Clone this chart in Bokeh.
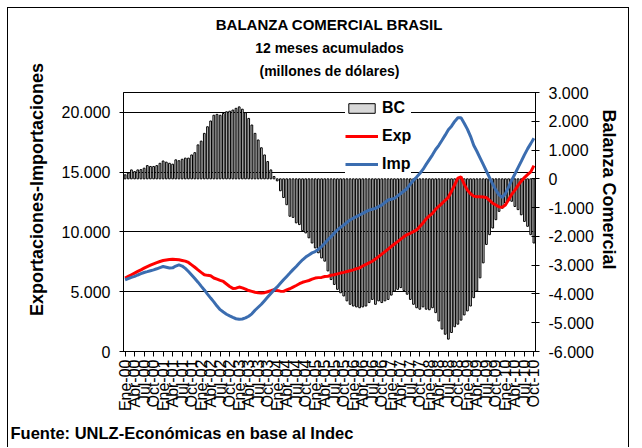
from math import pi
from bokeh.plotting import figure
from bokeh.models import Range1d, LinearAxis, FixedTicker, Legend, LegendItem, Title
from bokeh.embed import file_html
from bokeh.resources import INLINE

FONT = "Liberation Sans"
NBSP = "\u00a0"

# ---- data (monthly, Ene-2000 .. Oct-2010, 12-month accumulated) ----
month_abbr = ["Ene", "Abr", "Jul", "Oct"]
year_codes = ["00", "01", "02", "03", "04", "05", "06", "07", "08", "09", "10"]
x_tick_labels = [f"{m}-{y}" for y in year_codes for m in month_abbr]  # 44 labels
x_tick_months = list(range(0, 130, 3))

bc = [140, 200, 310, 250, 310, 320, 370, 460, 430, 430,
      460, 540, 620, 580, 540, 510, 660, 630, 680, 720,
      720, 830, 910, 1180, 1310, 1580, 1810, 2010, 2210, 2240,
      2210, 2270, 2330, 2350, 2390, 2450, 2500, 2420, 2300, 2100,
      1870, 1580, 1350, 1080, 830, 600, 310, 80, -70, -415,
      -650, -900, -1300, -1340, -1530, -1590, -1800, -1880, -2050, -2230,
      -2400, -2570, -2750, -2860, -3200, -3500, -3670, -3840, -3960, -4070,
      -4240, -4360, -4420, -4450, -4480, -4450, -4420, -4300, -4190, -4360,
      -4240, -4300, -4240, -4190, -4040, -3900, -3840, -3780, -3880, -4010,
      -4190, -4360, -4480, -4530, -4450, -4530, -4550, -4480, -4650, -4940,
      -5220, -5400, -5570, -5340, -5140, -5050, -4910, -4730, -4590, -4420,
      -4130, -3900, -3440, -2920, -2280, -1940, -1710, -1420, -1130, -1020,
      -840, -760, -780, -960, -1070, -1250, -1480, -1650, -1940, -2230]

exp_vals = [6140, 6280, 6420, 6560, 6700, 6830, 6970, 7100, 7220, 7330,
            7430, 7530, 7610, 7660, 7700, 7720, 7700, 7670, 7620, 7560,
            7450, 7250, 7050, 6830, 6620, 6420, 6370, 6330, 6150, 6050,
            5950, 5860, 5650, 5440, 5280, 5300, 5390, 5320, 5220, 5100,
            5030, 4960, 4920, 4890, 4920, 5000, 5080, 5170, 5100, 5050,
            5030, 5150, 5250, 5390, 5520, 5670, 5790, 5870, 5940, 6050,
            6140, 6180, 6200, 6270, 6300, 6380, 6420, 6490, 6560, 6620,
            6690, 6760, 6830, 6920, 7000, 7150, 7290, 7420, 7550, 7740,
            7940, 8150, 8360, 8570, 8780, 8990, 9190, 9400, 9610, 9780,
            9890, 10030, 10170, 10450, 10750, 11100, 11350, 11560, 11900, 12150,
            12390, 12650, 12900, 13400, 13950, 14500, 14600, 14000, 13500, 13200,
            13000, 12940, 12940, 12920, 12880, 12650, 12400, 12250, 12100, 12060,
            12250, 12700, 13150, 13500, 13900, 14250, 14550, 14800, 15030, 15550]

imp_vals = [6000, 6100, 6200, 6280, 6400, 6510, 6610, 6680, 6760, 6830,
            6920, 7020, 7110, 7050, 6980, 7000, 7150, 7250, 7150, 6950,
            6690, 6400, 6110, 5800, 5470, 5150, 4800, 4470, 4150, 3800,
            3500, 3300, 3120, 2980, 2850, 2740, 2690, 2720, 2810, 2950,
            3150, 3450, 3700, 3950, 4250, 4550, 4850, 5150, 5400, 5700,
            6000, 6280, 6560, 6850, 7110, 7400, 7670, 7900, 8080, 8250,
            8360, 8550, 8780, 9050, 9350, 9610, 9900, 10170, 10380, 10580,
            10800, 11000, 11150, 11280, 11420, 11560, 11700, 11830, 11900, 11970,
            12120, 12250, 12470, 12670, 12740, 12810, 13020, 13220, 13430, 13640,
            14000, 14330, 14600, 14890, 15230, 15650, 16050, 16450, 16900, 17250,
            17670, 18100, 18550, 18850, 19250, 19550, 19550, 19100, 18600, 18000,
            17250, 16750, 16200, 15650, 15100, 14550, 14000, 13500, 13100, 12890,
            13200, 13750, 14330, 14850, 15380, 15900, 16450, 16950, 17390, 17850]

left_ticks = [0, 5000, 10000, 15000, 20000]
left_tick_labels = ["0", "5.000", "10.000", "15.000", "20.000"]
right_ticks = [-6000, -5000, -4000, -3000, -2000, -1000, 0, 1000, 2000, 3000]
right_tick_labels = ["-6.000", "-5.000", "-4.000", "-3.000", "-2.000", "-1.000",
                     "0", "1.000", "2.000", "3.000"]
grid_ticks = [5000, 10000, 15000, 20000]

title_lines = ["BALANZA COMERCIAL BRASIL", "12 meses acumulados", "(millones de dólares)"]
title_sizes = ["15px", "14px", "14px"]
left_label = "Exportaciones-Importaciones"
right_label = "Balanza Comercial"
footer = "Fuente: UNLZ-Económicas en base al Indec"

xc = [i + 0.5 for i in range(len(bc))]

p = figure(width=622, height=440, title=None,
           x_range=Range1d(0, 130), y_range=Range1d(0, 21667),
           output_backend="svg", toolbar_location=None,
           min_border_left=115, min_border_right=95,
           min_border_top=84, min_border_bottom=96)
p.extra_y_ranges = {"bc": Range1d(-6000, 3000)}
p.background_fill_color = "white"
p.border_fill_color = "white"
p.outline_line_color = "black"
p.outline_line_width = 1
p.styles = {"margin-left": "7px", "margin-top": "7px",
            "border-left": "1px solid black", "border-top": "1px solid black",
            "border-right": "1px solid black"}

# grid
p.xgrid.visible = False
p.ygrid.ticker = FixedTicker(ticks=grid_ticks)
p.ygrid.grid_line_color = "black"
p.ygrid.grid_line_width = 1

# bars
r_bc = p.vbar(x=xc, top=bc, bottom=0, width=0.55, y_range_name="bc",
              fill_color="#d8d8d8", line_color="black", line_width=1)

# lines
r_exp = p.line(xc, exp_vals, line_color="#ff0000", line_width=3)
r_imp = p.line(xc, imp_vals, line_color="#3b6db0", line_width=3)

# axes
def style_axis(ax):
    ax.axis_line_color = "black"
    ax.major_tick_line_color = "black"
    ax.minor_tick_line_color = None
    ax.major_label_text_font = FONT
    ax.major_label_text_color = "black"
    ax.axis_label_text_font = FONT
    ax.axis_label_text_font_style = "bold"
    ax.axis_label_text_color = "black"

xa = p.xaxis[0]
style_axis(xa)
xa.ticker = FixedTicker(ticks=[m + 0.5 for m in x_tick_months])
xa.major_label_overrides = {m + 0.5: lbl for m, lbl in zip(x_tick_months, x_tick_labels)}
xa.major_label_orientation = pi / 2
xa.major_label_text_font_size = "16px"
xa.major_tick_in = 0
xa.major_tick_out = 5
xa.major_label_standoff = 3

ya = p.yaxis[0]
style_axis(ya)
ya.ticker = FixedTicker(ticks=left_ticks)
ya.major_label_overrides = dict(zip(left_ticks, left_tick_labels))
ya.major_label_text_font_size = "16px"
ya.major_tick_in = 4
ya.major_tick_out = 4
ya.major_label_standoff = 9
# leading no-break spaces shift the label up like in the original
ya.axis_label = NBSP * 13 + left_label
ya.axis_label_text_font_size = "18px"
ya.axis_label_standoff = 12

ra = LinearAxis(y_range_name="bc", ticker=FixedTicker(ticks=right_ticks),
                major_label_overrides=dict(zip(right_ticks, right_tick_labels)),
                axis_label=right_label + NBSP * 13)
style_axis(ra)
ra.major_label_text_font_size = "16px"
ra.major_tick_in = 4
ra.major_tick_out = 4
ra.major_label_standoff = 9
ra.axis_label_text_font_size = "18px"
ra.axis_label_standoff = 2
p.add_layout(ra, "right")

# legend
legend = Legend(items=[LegendItem(label="BC", renderers=[r_bc]),
                       LegendItem(label="Exp", renderers=[r_exp]),
                       LegendItem(label="Imp", renderers=[r_imp])],
                location=(222, 178), glyph_width=33, glyph_height=12,
                label_height=18, spacing=10, padding=4, label_standoff=4,
                label_text_font=FONT, label_text_font_size="16px",
                label_text_font_style="bold", label_text_color="black",
                border_line_color=None, background_fill_color="white",
                background_fill_alpha=1.0)
p.add_layout(legend)

# small spacer between plot frame and the title block
p.add_layout(Title(text=NBSP, text_font_size="8px", standoff=0), "above")
# titles (added nearest-first)
for txt, fs in zip(reversed(title_lines), reversed(title_sizes)):
    p.add_layout(Title(text=txt, align="center", offset=-9, text_font=FONT,
                       text_font_size=fs, text_font_style="bold",
                       text_color="black", standoff=5), "above")

p.add_layout(Title(text=footer, align="left", offset=-113, text_font=FONT,
                   text_font_size="16.5px", text_font_style="bold",
                   text_color="black", standoff=14), "below")

open("out.html", "w").write(file_html(p, INLINE))
